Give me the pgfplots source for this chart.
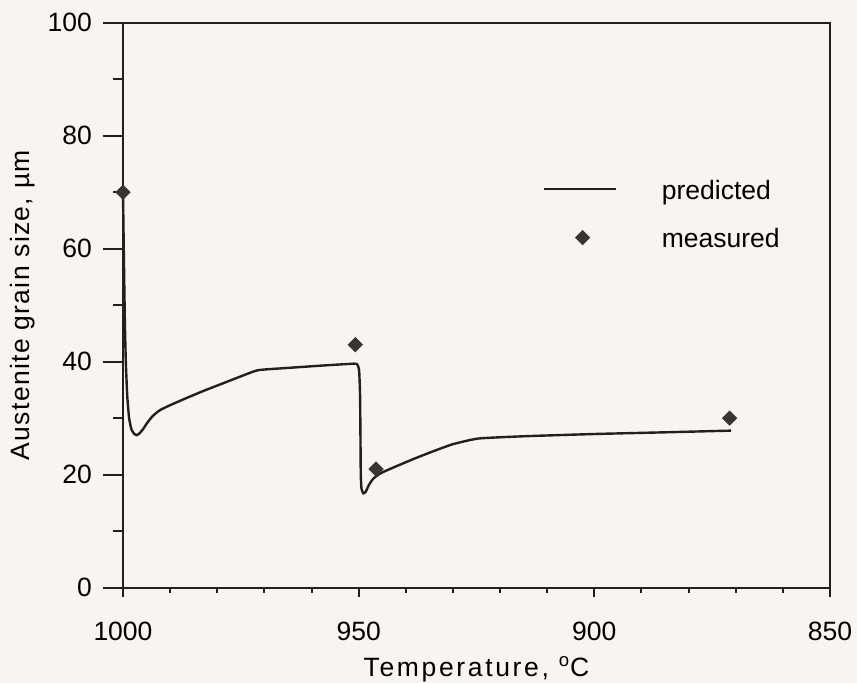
\documentclass[border=0pt]{standalone}
\usepackage{fontspec}
\setmainfont{Liberation Sans}
\newfontfamily\labelfont[LetterSpace=5]{Liberation Sans}
\newfontfamily\xlabelfont[LetterSpace=10]{Liberation Sans}
\usepackage{pgfplots}
\pgfplotsset{compat=1.18}
\usetikzlibrary{backgrounds}
\definecolor{bgcol}{RGB}{250,244,241}
\definecolor{ink}{RGB}{35,31,32}
\definecolor{mk}{RGB}{58,52,54}
\pgfplotsset{
  linelegend/.style={legend image code/.code={\draw[##1] (0pt,2pt) -- (36pt,2pt); \path[draw=none,fill=none] (0pt,2pt) -- (58.8pt,2pt);}},
  marklegend/.style={legend image code/.code={\draw[##1] plot coordinates {(19.15pt,1.85pt)}; \path[draw=none,fill=none] (0pt,1.85pt) -- (58.8pt,1.85pt);}},
}
\begin{document}
\fontsize{13.25}{16}\selectfont
\begin{tikzpicture}[show background rectangle, background rectangle/.style={fill=bgcol, draw=none}, inner frame sep=0pt]
\begin{axis}[
  scale only axis, width=353.5pt, height=282.5pt,
  x dir=reverse, xmin=850, xmax=1000, ymin=0, ymax=100,
  xtick={850,900,950,1000}, ytick={0,20,...,100},
  minor x tick num=4, minor y tick num=1,
  tick align=outside, xtick pos=left, ytick pos=left,
  major tick length=10pt, minor tick length=5pt,
  x tick style={/pgfplots/major tick length=4.5pt, /pgfplots/minor tick length=2.5pt},
  axis line style={line width=1pt, ink},
  every tick/.style={line width=1pt, ink},
  /pgf/number format/assume math mode=true,
  /pgf/number format/1000 sep={},
  xticklabel style={yshift=-2.5pt},
  yticklabel style={xshift=-1pt},
  xlabel={\xlabelfont Temperature, \textsuperscript{o}C},
  ylabel={\labelfont Austenite grain size, µm},
  every axis x label/.style={at={(axis description cs:0.5,0)}, anchor=base, yshift=-44.5pt},
  every axis y label/.style={at={(axis description cs:-0.1414,0.5)}, rotate=90, anchor=center},
  clip=false,
  legend style={draw=none, fill=none, inner sep=0pt, at={(0.5936,0.6556)}, anchor=west,
    nodes={text height=0.75em, text depth=0.25em, inner sep=0pt}, row sep=10.75pt},
  legend cell align=left,
]
\addplot[ink, line width=1.2pt, smooth, tension=0.3, linelegend]
coordinates {
(1000,70) (999.8,58) (999.6,47) (999.4,40) (999.1,34) (998.7,30) (998.2,28) (997.6,27.2)
(997.1,27.0) (996.5,27.3) (995.8,28.0) (995.0,29.0) (994.0,30.1) (993.0,30.9) (992.0,31.5)
(990.0,32.3) (987.0,33.4) (983.0,34.8) (979.0,36.1) (975.0,37.4) (971.3,38.5) (965,38.9)
(958,39.3) (951.0,39.65) (950.3,39.5) (949.9,38.5) (949.7,34) (949.6,25) (949.55,20)
(949.4,17.5) (949.0,16.7) (948.5,17.0) (947.8,18.2) (947.0,19.2) (946.0,19.9) (945.0,20.4)
(942.0,21.5) (938.0,22.9) (934.0,24.2) (930.0,25.4) (924.6,26.4) (915,26.8) (900,27.2)
(885,27.5) (871,27.8)
};
\addlegendentry{predicted}
\addplot[only marks, mark=square*, mark size=2.5pt, mark options={rotate=45, fill=mk, draw=mk}, marklegend]
coordinates {(1000,70) (950.7,43) (946.3,21) (871.3,30)};
\addlegendentry{measured}
\end{axis}
\pgfresetboundingbox
\path (current axis.south west) ++(-61.5pt,-47.65pt);
\path (current axis.north east) ++(13.5pt,11.35pt);
\end{tikzpicture}
\end{document}
